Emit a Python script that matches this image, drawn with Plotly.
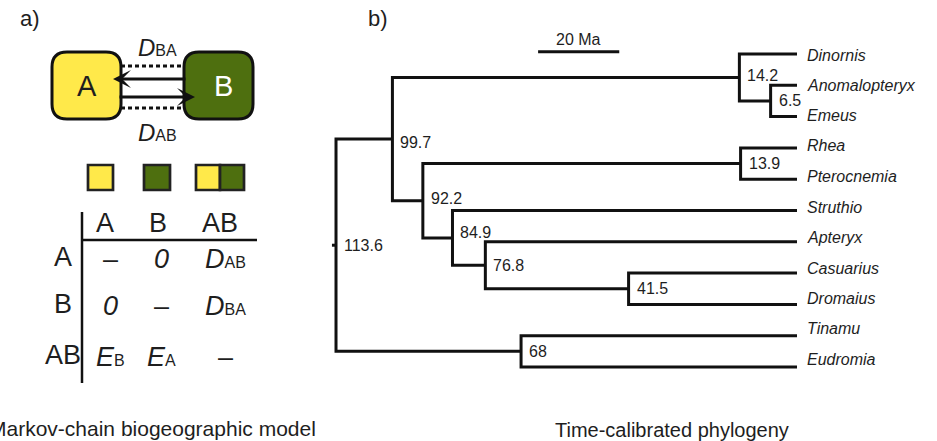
import plotly.graph_objects as go

# ---------------- data ----------------
tip_labels = ["Dinornis", "Anomalopteryx", "Emeus", "Rhea", "Pterocnemia", "Struthio",
              "Apteryx", "Casuarius", "Dromaius", "Tinamu", "Eudromia"]
# internal nodes: age (Ma) and children (int = internal node index, str = tip)
node_ages = [113.6, 99.7, 14.2, 6.5, 92.2, 13.9, 84.9, 76.8, 41.5, 68.0]
node_children = [(1, 9), (2, 4), ("Dinornis", 3), ("Anomalopteryx", "Emeus"), (5, 6),
                 ("Rhea", "Pterocnemia"), ("Struthio", 7), ("Apteryx", 8),
                 ("Casuarius", "Dromaius"), ("Tinamu", "Eudromia")]
scale_bar_ma = 20

matrix_states = ["A", "B", "AB"]
matrix_cells = [["–", "<i>0</i>", "D|AB"],
                ["<i>0</i>", "–", "D|BA"],
                ["E|B", "E|A", "–"]]
area_colors = {"A": "#FFE94A", "B": "#4E6F0F"}

# ---------------- layout constants ----------------
W, H = 937, 441
PX_PER_MA = 4.058
TIP_X_PX = 797
TIP0_Y_PX = 54
TIP_STEP_PX = 31.3
FONT = "Liberation Sans, Arial, Helvetica, sans-serif"
INK = "#111111"
TXT = "#1e1e1e"
# small vertical nudges (px, up positive) for node-age labels, by node index
label_nudge = {1: -3, 2: 2, 4: 2, 6: 5}

# ---------------- tree geometry ----------------
_memo = {}
def node_y(i):
    if i in _memo:
        return _memo[i]
    ys = [pos(c)[1] for c in node_children[i]]
    _memo[i] = sum(ys) / len(ys)
    return _memo[i]

def pos(c):
    if isinstance(c, str):
        return 0.0, float(tip_labels.index(c))
    return node_ages[c], node_y(c)

fig = go.Figure()

tx, ty = [], []
for i, ch in enumerate(node_children):
    na = node_ages[i]
    (x1, y1), (x2, y2) = pos(ch[0]), pos(ch[1])
    tx += [x1, na, na, x2, None]
    ty += [y1, y1, y2, y2, None]
# root stub
root_y = node_y(0)
tx += [node_ages[0], node_ages[0] + 1.0, None]
ty += [root_y, root_y, None]

fig.add_trace(go.Scatter(x=tx, y=ty, mode="lines", xaxis="x", yaxis="y",
                         line=dict(color=INK, width=3), hoverinfo="skip",
                         showlegend=False))

# scale bar
sb_start = 63.8
fig.add_trace(go.Scatter(x=[sb_start, sb_start - scale_bar_ma], y=[-0.07, -0.07],
                         mode="lines", xaxis="x", yaxis="y",
                         line=dict(color=INK, width=3), hoverinfo="skip", showlegend=False))

annotations = []
annotations.append(dict(x=sb_start - scale_bar_ma / 2, y=-0.45, xref="x", yref="y",
                        text=f"{scale_bar_ma} Ma", showarrow=False,
                        font=dict(family=FONT, size=16, color=TXT)))

for i, name in enumerate(tip_labels):
    annotations.append(dict(x=0, y=i, xref="x", yref="y", text=f"<i>{name}</i>",
                            showarrow=False, xanchor="left", yanchor="middle",
                            xshift=8, yshift=round(0.9 * i) - 1,
                            font=dict(family=FONT, size=16, color=TXT)))

for i, age in enumerate(node_ages):
    annotations.append(dict(x=age, y=node_y(i), xref="x", yref="y", text=f"{age:g}",
                            showarrow=False, xanchor="left", yanchor="middle",
                            xshift=6, yshift=label_nudge.get(i, 0),
                            font=dict(family=FONT, size=16, color=TXT)))

# ---------------- panel a (schematic, pixel coords on x2/y2) ----------------
fig.add_trace(go.Scatter(x=[None], y=[None], xaxis="x2", yaxis="y2", showlegend=False))

def rrect(x0, y0, x1, y1, r):
    return (f"M{x0+r},{y0} L{x1-r},{y0} Q{x1},{y0} {x1},{y0+r} L{x1},{y1-r} "
            f"Q{x1},{y1} {x1-r},{y1} L{x0+r},{y1} Q{x0},{y1} {x0},{y1-r} "
            f"L{x0},{y0+r} Q{x0},{y0} {x0+r},{y0} Z")

shapes = []
# dotted connectors
for yy in (66, 108):
    shapes.append(dict(type="line", xref="x2", yref="y2", x0=121, x1=184, y0=yy, y1=yy,
                       line=dict(color=INK, width=3, dash="4px,3px")))
# rounded boxes
shapes.append(dict(type="path", xref="x2", yref="y2", path=rrect(52, 52, 121, 119, 15),
                   fillcolor=area_colors["A"], line=dict(color=INK, width=3)))
shapes.append(dict(type="path", xref="x2", yref="y2", path=rrect(184, 52, 253, 119, 15),
                   fillcolor=area_colors["B"], line=dict(color=INK, width=3)))
# small state squares
sq = [(88, 113, "A"), (144, 170, "B"), (196, 220, "A"), (220, 244, "B")]
for x0, x1, a in sq:
    shapes.append(dict(type="rect", xref="x2", yref="y2", x0=x0, x1=x1, y0=165, y1=190,
                       fillcolor=area_colors[a], line=dict(color="#222222", width=2.7)))
# table rules
shapes.append(dict(type="line", xref="x2", yref="y2", x0=82, x1=82, y0=212, y1=383,
                   line=dict(color=INK, width=2.5)))
shapes.append(dict(type="line", xref="x2", yref="y2", x0=82, x1=257, y0=240, y1=240,
                   line=dict(color=INK, width=2.5)))

# arrows
annotations.append(dict(x=113, y=79, ax=187, ay=79, xref="x2", yref="y2", axref="x2",
                        ayref="y2", text="", showarrow=True, arrowhead=3, arrowsize=1,
                        arrowwidth=3, arrowcolor=INK))
annotations.append(dict(x=195, y=97, ax=118, ay=97, xref="x2", yref="y2", axref="x2",
                        ayref="y2", text="", showarrow=True, arrowhead=3, arrowsize=1,
                        arrowwidth=3, arrowcolor=INK))

def rate(s, small):
    if "|" in s:
        a, b = s.split("|")
        return (f"<i>{a}</i><span style='font-size:{small}px'>{b}</span>")
    return s

def txt(x, y, s, size, color=TXT, anchor="center"):
    annotations.append(dict(x=x, y=y, xref="x2", yref="y2", text=s, showarrow=False,
                            xanchor=anchor, yanchor="middle",
                            font=dict(family=FONT, size=size, color=color)))

txt(87, 86, "A", 29)
txt(223, 86, "B", 29, color="white")
txt(157, 47, rate("D|BA", 16), 24)
txt(157, 132, rate("D|AB", 16), 24)

col_x = [105, 158, 220]
cell_x = [110, 161, 225]
row_y = [257, 304, 355]
for j, s in enumerate(matrix_states):
    txt(col_x[j], 223, s, 27)
    txt(63, row_y[j], s, 27)
for r, row in enumerate(matrix_cells):
    for c, cell in enumerate(row):
        txt(cell_x[c], row_y[r] + 2, rate(cell, 16), 27)

# panel labels & captions
annotations.append(dict(x=18 / W, y=1 - 18 / H, xref="paper", yref="paper", text="a)",
                        showarrow=False, xanchor="left", yanchor="middle",
                        font=dict(family=FONT, size=22, color=TXT)))
annotations.append(dict(x=366 / W, y=1 - 18 / H, xref="paper", yref="paper", text="b)",
                        showarrow=False, xanchor="left", yanchor="middle",
                        font=dict(family=FONT, size=22, color=TXT)))
annotations.append(dict(x=318 / W, y=1 - 428 / H, xref="paper", yref="paper",
                        text="Markov-chain biogeographic model", showarrow=False,
                        xanchor="right", yanchor="middle",
                        font=dict(family=FONT, size=21, color=TXT)))
annotations.append(dict(x=672 / W, y=1 - 430 / H, xref="paper", yref="paper",
                        text="Time-calibrated phylogeny", showarrow=False,
                        xanchor="center", yanchor="middle",
                        font=dict(family=FONT, size=20, color=TXT)))

fig.update_layout(
    width=W, height=H, margin=dict(l=0, r=0, t=0, b=0),
    paper_bgcolor="white", plot_bgcolor="rgba(0,0,0,0)",
    xaxis=dict(domain=[0, 1], range=[TIP_X_PX / PX_PER_MA, -(W - TIP_X_PX) / PX_PER_MA],
               visible=False, fixedrange=True),
    yaxis=dict(domain=[0, 1], range=[(H - TIP0_Y_PX) / TIP_STEP_PX, -TIP0_Y_PX / TIP_STEP_PX],
               visible=False, fixedrange=True),
    xaxis2=dict(domain=[0, 1], range=[0, W], visible=False, anchor="y2",
                overlaying="x", fixedrange=True),
    yaxis2=dict(domain=[0, 1], range=[H, 0], visible=False, anchor="x2",
                overlaying="y", fixedrange=True),
    shapes=shapes, annotations=annotations, showlegend=False,
)

fig.write_html("out.html")
